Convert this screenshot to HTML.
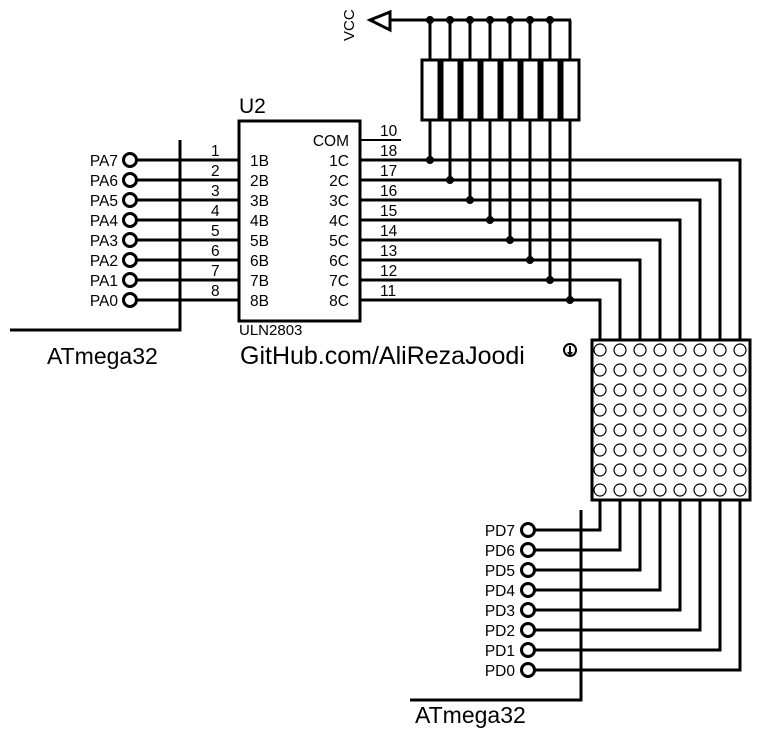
<!DOCTYPE html>
<html><head><meta charset="utf-8"><style>
html,body{margin:0;padding:0;background:#fff;}
svg{display:block;}
text{font-family:"Liberation Sans",Arial,sans-serif;fill:#000;}
</style></head><body>
<svg width="771" height="731" viewBox="0 0 771 731" xmlns="http://www.w3.org/2000/svg">
<g stroke="#000" stroke-width="3" fill="none">
<polygon points="370,20 390,12 390,30" />
<line x1="390" y1="20" x2="571" y2="20"/>
<line x1="430" y1="20" x2="430" y2="160"/><rect x="422" y="60" width="17" height="60" fill="#fff"/>
<line x1="450" y1="20" x2="450" y2="180"/><rect x="442" y="60" width="17" height="60" fill="#fff"/>
<line x1="470" y1="20" x2="470" y2="200"/><rect x="462" y="60" width="17" height="60" fill="#fff"/>
<line x1="490" y1="20" x2="490" y2="220"/><rect x="482" y="60" width="17" height="60" fill="#fff"/>
<line x1="510" y1="20" x2="510" y2="240"/><rect x="502" y="60" width="17" height="60" fill="#fff"/>
<line x1="530" y1="20" x2="530" y2="260"/><rect x="522" y="60" width="17" height="60" fill="#fff"/>
<line x1="550" y1="20" x2="550" y2="280"/><rect x="542" y="60" width="17" height="60" fill="#fff"/>
<line x1="570" y1="20" x2="570" y2="300"/><rect x="562" y="60" width="17" height="60" fill="#fff"/>
<rect x="239" y="121" width="121" height="200" fill="#fff"/>
<line x1="360" y1="140" x2="401" y2="140" stroke-width="2"/>
<polyline points="360,160 740,160 740,340"/>
<polyline points="360,180 720,180 720,340"/>
<polyline points="360,200 700,200 700,340"/>
<polyline points="360,220 680,220 680,340"/>
<polyline points="360,240 660,240 660,340"/>
<polyline points="360,260 640,260 640,340"/>
<polyline points="360,280 620,280 620,340"/>
<polyline points="360,300 600,300 600,340"/>
<line x1="137" y1="160" x2="239" y2="160"/>
<line x1="137" y1="180" x2="239" y2="180"/>
<line x1="137" y1="200" x2="239" y2="200"/>
<line x1="137" y1="220" x2="239" y2="220"/>
<line x1="137" y1="240" x2="239" y2="240"/>
<line x1="137" y1="260" x2="239" y2="260"/>
<line x1="137" y1="280" x2="239" y2="280"/>
<line x1="137" y1="300" x2="239" y2="300"/>
<polyline points="180,140 180,330 10,330"/>
<g fill="#fff">
<circle cx="130" cy="160" r="6.5"/><circle cx="130" cy="180" r="6.5"/><circle cx="130" cy="200" r="6.5"/><circle cx="130" cy="220" r="6.5"/>
<circle cx="130" cy="240" r="6.5"/><circle cx="130" cy="260" r="6.5"/><circle cx="130" cy="280" r="6.5"/><circle cx="130" cy="300" r="6.5"/>
</g>
<rect x="592" y="340" width="158" height="160" fill="#fff"/>
<polyline points="535,530 600,530 600,500"/>
<polyline points="535,550 620,550 620,500"/>
<polyline points="535,570 640,570 640,500"/>
<polyline points="535,590 660,590 660,500"/>
<polyline points="535,610 680,610 680,500"/>
<polyline points="535,630 700,630 700,500"/>
<polyline points="535,650 720,650 720,500"/>
<polyline points="535,670 740,670 740,500"/>
<polyline points="581,510 581,700 410,700"/>
<g fill="#fff">
<circle cx="528" cy="530" r="6.5"/><circle cx="528" cy="550" r="6.5"/><circle cx="528" cy="570" r="6.5"/><circle cx="528" cy="590" r="6.5"/>
<circle cx="528" cy="610" r="6.5"/><circle cx="528" cy="630" r="6.5"/><circle cx="528" cy="650" r="6.5"/><circle cx="528" cy="670" r="6.5"/>
</g>
<circle cx="570" cy="350" r="6" stroke-width="2"/>
</g>
<g fill="#000">
<circle cx="430" cy="20" r="4"/><circle cx="450" cy="20" r="4"/><circle cx="470" cy="20" r="4"/><circle cx="490" cy="20" r="4"/>
<circle cx="510" cy="20" r="4"/><circle cx="530" cy="20" r="4"/><circle cx="550" cy="20" r="4"/>
<circle cx="430" cy="160" r="4"/><circle cx="450" cy="180" r="4"/><circle cx="470" cy="200" r="4"/><circle cx="490" cy="220" r="4"/>
<circle cx="510" cy="240" r="4"/><circle cx="530" cy="260" r="4"/><circle cx="550" cy="280" r="4"/><circle cx="570" cy="300" r="4"/>
<line x1="570" y1="346" x2="570" y2="353" stroke="#000" stroke-width="2"/>
<polygon points="567,352 573,352 570,356"/>
</g>
<g stroke="#000" stroke-width="1.2" fill="none">
<circle cx="600" cy="350" r="6"/><circle cx="620" cy="350" r="6"/><circle cx="640" cy="350" r="6"/><circle cx="660" cy="350" r="6"/><circle cx="680" cy="350" r="6"/><circle cx="700" cy="350" r="6"/><circle cx="720" cy="350" r="6"/><circle cx="740" cy="350" r="6"/>
<circle cx="600" cy="370" r="6"/><circle cx="620" cy="370" r="6"/><circle cx="640" cy="370" r="6"/><circle cx="660" cy="370" r="6"/><circle cx="680" cy="370" r="6"/><circle cx="700" cy="370" r="6"/><circle cx="720" cy="370" r="6"/><circle cx="740" cy="370" r="6"/>
<circle cx="600" cy="390" r="6"/><circle cx="620" cy="390" r="6"/><circle cx="640" cy="390" r="6"/><circle cx="660" cy="390" r="6"/><circle cx="680" cy="390" r="6"/><circle cx="700" cy="390" r="6"/><circle cx="720" cy="390" r="6"/><circle cx="740" cy="390" r="6"/>
<circle cx="600" cy="410" r="6"/><circle cx="620" cy="410" r="6"/><circle cx="640" cy="410" r="6"/><circle cx="660" cy="410" r="6"/><circle cx="680" cy="410" r="6"/><circle cx="700" cy="410" r="6"/><circle cx="720" cy="410" r="6"/><circle cx="740" cy="410" r="6"/>
<circle cx="600" cy="430" r="6"/><circle cx="620" cy="430" r="6"/><circle cx="640" cy="430" r="6"/><circle cx="660" cy="430" r="6"/><circle cx="680" cy="430" r="6"/><circle cx="700" cy="430" r="6"/><circle cx="720" cy="430" r="6"/><circle cx="740" cy="430" r="6"/>
<circle cx="600" cy="450" r="6"/><circle cx="620" cy="450" r="6"/><circle cx="640" cy="450" r="6"/><circle cx="660" cy="450" r="6"/><circle cx="680" cy="450" r="6"/><circle cx="700" cy="450" r="6"/><circle cx="720" cy="450" r="6"/><circle cx="740" cy="450" r="6"/>
<circle cx="600" cy="470" r="6"/><circle cx="620" cy="470" r="6"/><circle cx="640" cy="470" r="6"/><circle cx="660" cy="470" r="6"/><circle cx="680" cy="470" r="6"/><circle cx="700" cy="470" r="6"/><circle cx="720" cy="470" r="6"/><circle cx="740" cy="470" r="6"/>
<circle cx="600" cy="490" r="6"/><circle cx="620" cy="490" r="6"/><circle cx="640" cy="490" r="6"/><circle cx="660" cy="490" r="6"/><circle cx="680" cy="490" r="6"/><circle cx="700" cy="490" r="6"/><circle cx="720" cy="490" r="6"/><circle cx="740" cy="490" r="6"/>
</g>
<text x="354" y="41" font-size="15" transform="rotate(-90 354 41)">VCC</text>
<text x="239" y="113" font-size="21">U2</text>
<text x="239" y="335" font-size="15">ULN2803</text>
<text x="240" y="364" font-size="25">GitHub.com/AliRezaJoodi</text>
<text x="47" y="364" font-size="23">ATmega32</text>
<text x="415" y="723" font-size="23">ATmega32</text>
<g font-size="15.5">
<text x="349" y="146" text-anchor="end">COM</text>
<text x="349" y="166" text-anchor="end">1C</text><text x="349" y="186" text-anchor="end">2C</text><text x="349" y="206" text-anchor="end">3C</text><text x="349" y="226" text-anchor="end">4C</text>
<text x="349" y="246" text-anchor="end">5C</text><text x="349" y="266" text-anchor="end">6C</text><text x="349" y="286" text-anchor="end">7C</text><text x="349" y="306" text-anchor="end">8C</text>
<text x="250" y="166">1B</text><text x="250" y="186">2B</text><text x="250" y="206">3B</text><text x="250" y="226">4B</text>
<text x="250" y="246">5B</text><text x="250" y="266">6B</text><text x="250" y="286">7B</text><text x="250" y="306">8B</text>
<text x="211" y="156">1</text><text x="211" y="176">2</text><text x="211" y="196">3</text><text x="211" y="216">4</text>
<text x="211" y="236">5</text><text x="211" y="256">6</text><text x="211" y="276">7</text><text x="211" y="296">8</text>
<text x="380" y="136">10</text><text x="380" y="156">18</text><text x="380" y="176">17</text><text x="380" y="196">16</text>
<text x="380" y="216">15</text><text x="380" y="236">14</text><text x="380" y="256">13</text><text x="380" y="276">12</text><text x="380" y="296">11</text>
<text x="118" y="166" text-anchor="end">PA7</text><text x="118" y="186" text-anchor="end">PA6</text><text x="118" y="206" text-anchor="end">PA5</text><text x="118" y="226" text-anchor="end">PA4</text>
<text x="118" y="246" text-anchor="end">PA3</text><text x="118" y="266" text-anchor="end">PA2</text><text x="118" y="286" text-anchor="end">PA1</text><text x="118" y="306" text-anchor="end">PA0</text>
<text x="515" y="536" text-anchor="end">PD7</text><text x="515" y="556" text-anchor="end">PD6</text><text x="515" y="576" text-anchor="end">PD5</text><text x="515" y="596" text-anchor="end">PD4</text>
<text x="515" y="616" text-anchor="end">PD3</text><text x="515" y="636" text-anchor="end">PD2</text><text x="515" y="656" text-anchor="end">PD1</text><text x="515" y="676" text-anchor="end">PD0</text>
</g>
</svg>
</body></html>
